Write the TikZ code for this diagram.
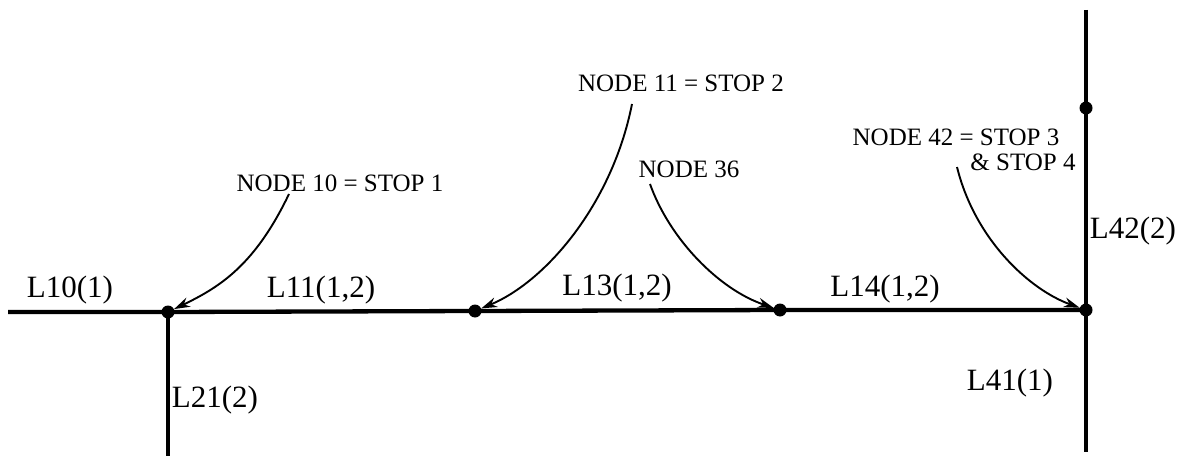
\documentclass[tikz,border=0pt]{standalone}
\usepackage{fontspec}
\setmainfont{Liberation Serif}
\usetikzlibrary{arrows.meta}
\begin{document}
\begin{tikzpicture}[x=1pt,y=-1pt,
  road/.style={line width=4.3pt},
  dot/.style={circle,fill=black,inner sep=0pt,minimum size=13pt},
  pointer/.style={line width=1.9pt,-{Stealth[length=16pt,width=10pt]}},
  small/.style={font=\fontsize{25}{27}\selectfont,inner sep=0pt},
  big/.style={font=\fontsize{31}{33}\selectfont,inner sep=0pt}]
\useasboundingbox (0,0) rectangle (1187,460);
% nodes
\node[dot] (n10) at (168,312) {};
\node[dot] (n11) at (475,311) {};
\node[dot] (n36) at (780,310) {};
\node[dot] (n42) at (1086,310) {};
\node[dot] (n43) at (1086,108) {};
\coordinate (w) at (8,312);
\coordinate (s21) at (168,456);
\coordinate (ntop) at (1086,10);
\coordinate (s41) at (1086,452);
% roads
\draw[road] (w) -- (n10.center) -- (n11.center) -- (n36.center) -- (n42.center);
\draw[road] (n10.center) -- (s21);
\draw[road] (ntop) -- (n43.center) -- (n42.center) -- (s41);
% road labels
\node[big] (l10) at (70,290) {L10(1)};
\node[big] (l11) at (321,290) {L11(1,2)};
\node[big] (l13) at (617,288) {L13(1,2)};
\node[big] (l14) at (885,289) {L14(1,2)};
\node[big] (l42) at (1133,231) {L42(2)};
\node[big] (l41) at (1010,383) {L41(1)};
\node[big] (l21) at (215,400) {L21(2)};
% stop labels
\node[small] (t10) at (340,183) {NODE 10 = STOP 1};
\node[small] (t11) at (681,83) {NODE 11 = STOP 2};
\node[small] (t36) at (689,169) {NODE 36};
\node[small] (t42a) at (956,137) {NODE 42 = STOP 3};
\node[small] (t42b) at (1023,162) {\& STOP 4};
\coordinate (a10) at (289,194);
\coordinate (a11) at (632,104);
\coordinate (a36) at (650,184);
\coordinate (a42) at (957,167);
% pointers
\draw[pointer] (a10) .. controls (255,265) and (220,287) .. (n10);
\draw[pointer] (a11) .. controls (612,205) and (545,282) .. (n11);
\draw[pointer] (a36) .. controls (670,240) and (720,290) .. (n36);
\draw[pointer] (a42) .. controls (975,240) and (1030,290) .. (n42);
\end{tikzpicture}
\end{document}
